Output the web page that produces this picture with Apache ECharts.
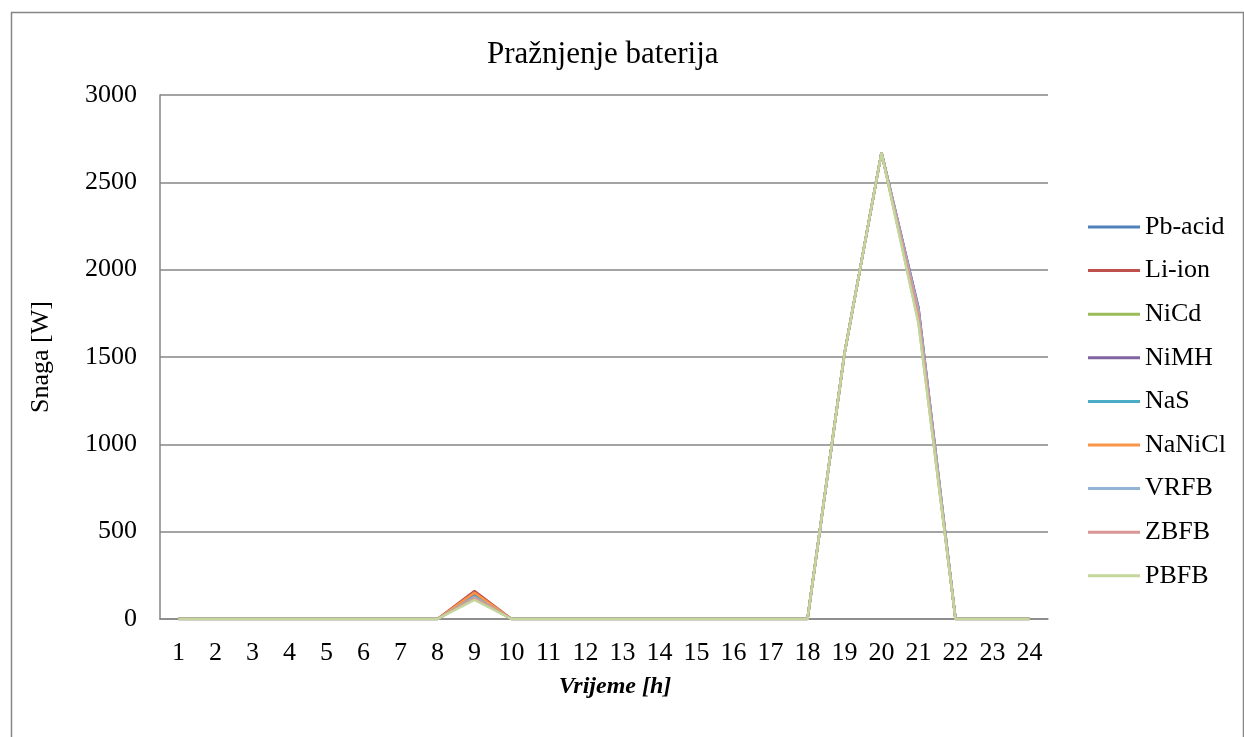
<!DOCTYPE html>
<html>
<head>
<meta charset="utf-8">
<script src="https://cdn.jsdelivr.net/npm/echarts@6/dist/echarts.min.js"></script>
<style>
html,body{margin:0;padding:0;background:#fff;}
#c{width:1244px;height:737px;}
</style>
</head>
<body>
<div id="c"></div>
<script>
const hours = ['1','2','3','4','5','6','7','8','9','10','11','12','13','14','15','16','17','18','19','20','21','22','23','24'];
const yTicks = [0, 500, 1000, 1500, 2000, 2500, 3000];
const seriesNames = ['Pb-acid','Li-ion','NiCd','NiMH','NaS','NaNiCl','VRFB','ZBFB','PBFB'];
const seriesColors = ['#4F81BD','#C0504D','#9BBB59','#8064A2','#4BACC6','#F79646','#95B3D7','#D99694','#C3D69B'];

const pbAcid = [0,0,0,0,0,0,0,0,140,0,0,0,0,0,0,0,0,0,1520,2670,1780,0,0,0];
const liIon  = [0,0,0,0,0,0,0,0,160,0,0,0,0,0,0,0,0,0,1520,2670,1740,0,0,0];
const niCd   = [0,0,0,0,0,0,0,0,115,0,0,0,0,0,0,0,0,0,1520,2670,1700,0,0,0];
const niMH   = [0,0,0,0,0,0,0,0,135,0,0,0,0,0,0,0,0,0,1520,2670,1780,0,0,0];
const naS    = [0,0,0,0,0,0,0,0,130,0,0,0,0,0,0,0,0,0,1520,2670,1740,0,0,0];
const naNiCl = [0,0,0,0,0,0,0,0,150,0,0,0,0,0,0,0,0,0,1520,2670,1730,0,0,0];
const vrfb   = [0,0,0,0,0,0,0,0,125,0,0,0,0,0,0,0,0,0,1520,2670,1770,0,0,0];
const zbfb   = [0,0,0,0,0,0,0,0,120,0,0,0,0,0,0,0,0,0,1520,2670,1750,0,0,0];
const pbfb   = [0,0,0,0,0,0,0,0,110,0,0,0,0,0,0,0,0,0,1520,2670,1690,0,0,0];
const seriesData = [pbAcid, liIon, niCd, niMH, naS, naNiCl, vrfb, zbfb, pbfb];

const FONT = '"Liberation Serif", "Times New Roman", serif';
const chart = echarts.init(document.getElementById('c'), null, {renderer: 'canvas'});
chart.setOption({
  animation: false,
  backgroundColor: '#ffffff',
  graphic: [{
    type: 'rect', left: 9, top: 10, silent: true,
    shape: {x: 0, y: 0, width: 1232, height: 740},
    style: {fill: 'none', stroke: '#868686', lineWidth: 1.5}
  }],
  title: {
    text: 'Pražnjenje baterija', left: 482, top: 34,
    textStyle: {fontFamily: FONT, fontSize: 31, fontWeight: 'normal', color: '#000'}
  },
  legend: {
    orient: 'vertical', left: 1083, top: 207,
    data: seriesNames,
    icon: 'rect', itemWidth: 52, itemHeight: 3, itemGap: 13.6, itemTextGap: 9,
    textStyle: {fontFamily: FONT, fontSize: 26, color: '#000', lineHeight: 30}
  },
  grid: {left: 160, right: 196, top: 95, bottom: 118, containLabel: false},
  xAxis: {
    type: 'category', data: hours, boundaryGap: true,
    name: 'Vrijeme [h]', nameLocation: 'middle', nameGap: 56,
    nameTextStyle: {fontFamily: FONT, fontSize: 24, fontWeight: 'bold', fontStyle: 'italic', color: '#000', padding: [0, 0, 0, 22]},
    axisLine: {lineStyle: {color: '#868686', width: 1.5}},
    axisTick: {show: false},
    axisLabel: {fontFamily: FONT, fontSize: 26, color: '#000', margin: 21, interval: 0}
  },
  yAxis: {
    type: 'value', min: yTicks[0], max: yTicks[yTicks.length-1], interval: 500,
    name: 'Snaga [W]', nameLocation: 'middle', nameGap: 106,
    nameTextStyle: {fontFamily: FONT, fontSize: 26, color: '#000'},
    axisLine: {show: true, lineStyle: {color: '#868686', width: 1.5}},
    axisTick: {show: false},
    axisLabel: {fontFamily: FONT, fontSize: 26, color: '#000', margin: 23, formatter: v => String(v)},
    splitLine: {lineStyle: {color: '#868686', width: 1.5}}
  },
  series: seriesNames.map((n, i) => ({
    name: n, type: 'line', data: seriesData[i],
    symbol: 'none', smooth: false,
    lineStyle: {color: seriesColors[i], width: 2.5},
    itemStyle: {color: seriesColors[i]}
  }))
});
</script>
</body>
</html>
